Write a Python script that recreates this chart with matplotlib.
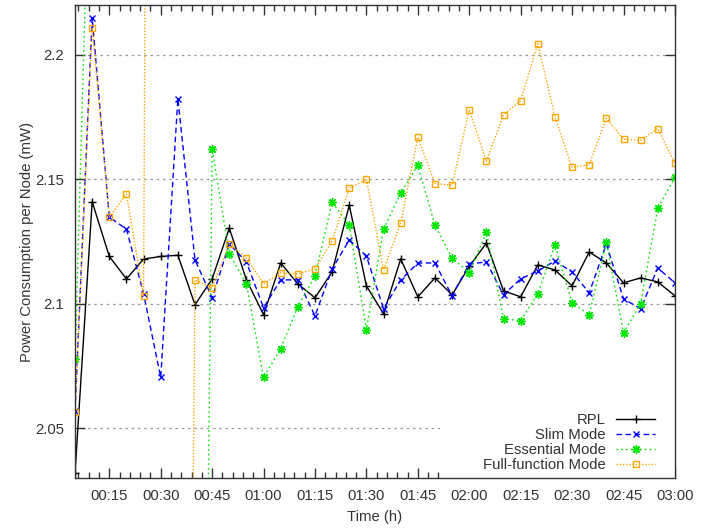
import numpy as np
import matplotlib
matplotlib.use("Agg")
import matplotlib.pyplot as plt
from matplotlib.patches import Rectangle
from matplotlib.ticker import FixedLocator, MultipleLocator, FuncFormatter

plt.rcParams['font.family'] = ['Liberation Sans', 'DejaVu Sans']
plt.rcParams['font.size'] = 10.7

# time of each sample, minutes since start
minutes = [5, 10, 15, 20, 25, 30, 35, 40, 45, 50, 55, 60,
           65, 70, 75, 80, 85, 90, 95, 100, 105, 110, 115, 120,
           125, 130, 135, 140, 145, 150, 155, 160, 165, 170, 175, 180]

rpl = [2.032, 2.141, 2.119, 2.110, 2.118, 2.119, 2.1195, 2.0996, 2.110, 2.1304, 2.1096, 2.0956,
       2.1164, 2.108, 2.1024, 2.1128, 2.1396, 2.1072, 2.096, 2.118, 2.1028, 2.1104, 2.1036, 2.115,
       2.1244, 2.1052, 2.1028, 2.1156, 2.1136, 2.1072, 2.1208, 2.1164, 2.1084, 2.1104, 2.1088, 2.1032]

slim = [2.057, 2.2148, 2.1348, 2.130, 2.104, 2.0704, 2.1824, 2.1176, 2.1024, 2.124, 2.1168, 2.0984,
        2.1096, 2.1096, 2.0952, 2.114, 2.1256, 2.1192, 2.098, 2.1096, 2.1164, 2.1164, 2.1032, 2.116,
        2.1168, 2.1036, 2.110, 2.1132, 2.1172, 2.1128, 2.1044, 2.124, 2.102, 2.098, 2.1144, 2.1084]

nan = float('nan')
essential = [2.078, 2.32, nan, nan, nan, nan, nan, 1.556, 2.162, 2.120, 2.108, 2.0704,
             2.082, 2.0988, 2.1112, 2.1408, 2.1316, 2.0896, 2.13, 2.1444, 2.1556, 2.1316, 2.1184, 2.1124,
             2.1288, 2.094, 2.0932, 2.104, 2.1236, 2.1004, 2.0956, 2.1248, 2.0884, 2.1, 2.1384, 2.1508]

full = [2.0564, 2.2109, 2.1348, 2.1441, 2.1032, 3.6, 1.31, 2.1096, 2.1064, 2.124, 2.1184, 2.108,
        2.1124, 2.112, 2.114, 2.1252, 2.1464, 2.15, 2.1136, 2.1324, 2.1669, 2.1483, 2.1476, 2.178,
        2.1572, 2.1759, 2.1816, 2.2045, 2.1751, 2.1548, 2.1559, 2.1745, 2.1661, 2.1657, 2.1704, 2.1564]

labels = ['RPL', 'Slim Mode', 'Essential Mode', 'Full-function Mode']

YLO, YHI = 2.03, 2.22


def gp_clip(x, y):
    # gnuplot default: a segment with both ends out of range is not drawn
    xs, ys = [x[0]], [y[0]]
    for i in range(1, len(x)):
        a, b = y[i - 1], y[i]
        if not (YLO <= a <= YHI) and not (YLO <= b <= YHI):
            xs.append(nan)
            ys.append(nan)
        xs.append(x[i])
        ys.append(b)
    return xs, ys


fig = plt.figure(figsize=(7.18, 5.30), dpi=100)
ax = fig.add_axes([0.1045, 0.098, 0.8355, 0.8925])

styles = [
    dict(color='black', ls='-', marker='+', ms=6, mew=1.0),
    dict(color='#0000ff', ls=(0, (4, 2.5)), marker='x', ms=5, mew=1.0),
    dict(color='#00e600', ls=(0, (1.2, 2.2)), marker=(8, 2, 0), ms=6, mew=1.0),
    dict(color='#ffa500', ls=(0, (1, 1.3)), marker='s', ms=5, mew=1.0, mfc='none'),
]

for data, lab, st in zip([rpl, slim, essential, full], labels, styles):
    xs, ys = gp_clip(minutes, data)
    ax.plot(xs, ys, lw=1.0, label=lab, **st)

ax.set_xlim(5, 180)
ax.set_ylim(YLO, YHI)

ax.xaxis.set_major_locator(MultipleLocator(15))
ax.xaxis.set_minor_locator(MultipleLocator(3))
ax.xaxis.set_major_formatter(FuncFormatter(lambda v, p: '%02d:%02d' % (int(v) // 60, int(v) % 60)))
ax.yaxis.set_major_locator(FixedLocator([2.05, 2.1, 2.15, 2.2]))
ax.yaxis.set_major_formatter(FuncFormatter(lambda v, p: ('%.2f' % v).rstrip('0').rstrip('.')))

ax.tick_params(which='both', direction='in', top=True, right=True, colors='#333333', labelcolor='#333333')
ax.tick_params(which='major', length=7, width=1.0, pad=8)
ax.tick_params(which='minor', length=4, width=1.0)
for s in ax.spines.values():
    s.set_color('#333333')
    s.set_linewidth(1.0)

ax.grid(axis='y', color='#999999', ls=(0, (2, 3)), lw=0.9)
ax.set_axisbelow(True)

# opaque key area, as gnuplot draws it over the grid
ax.add_patch(Rectangle((0.608, 0.0), 0.392, 0.154, transform=ax.transAxes,
                       facecolor='white', edgecolor='none', zorder=0.6))

ax.set_xlabel('Time (h)', color='#333333', labelpad=5)
ax.set_ylabel('Power Consumption per Node (mW)', color='#333333', labelpad=1)

leg = ax.legend(loc='lower right', bbox_to_anchor=(0.974, 0.004), markerfirst=False,
                frameon=False, handlelength=2.6, handletextpad=0.7, labelspacing=0.05,
                borderpad=0.3, borderaxespad=0.0)
for t in leg.get_texts():
    t.set_color('#333333')

fig.savefig('out.png', dpi=100)
